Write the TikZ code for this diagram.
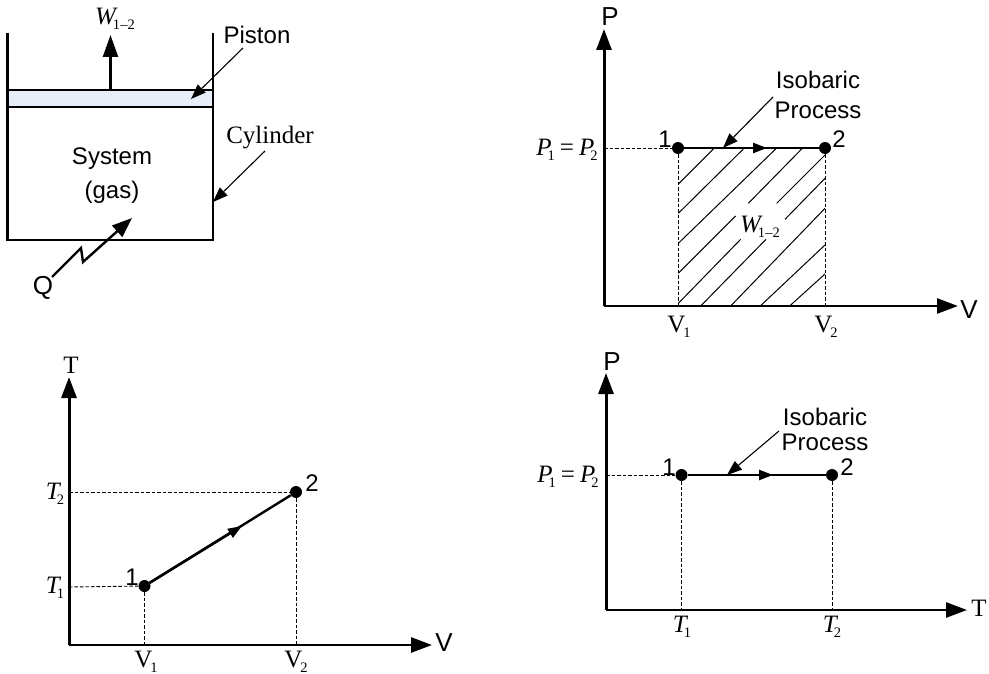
\documentclass[tikz,border=0pt]{standalone}
\usepackage{fontspec}
\setmainfont{Liberation Serif}
\newfontfamily\sansf{Liberation Sans}
\usetikzlibrary{arrows.meta}
\definecolor{pistonfill}{HTML}{E8EEF7}
\newcommand{\symsub}[3][-1pt]{{\fontsize{25}{25}\selectfont\itshape #2}\kern#1\raisebox{-5pt}{\fontsize{14.5}{14.5}\selectfont #3}}
\newcommand{\Wlab}{\symsub[-3pt]{W}{1\kern.2pt--\kern.2pt2}}
\newcommand{\Peq}{\symsub[-4pt]{P}{1}\kern5pt{\fontsize{25}{25}\selectfont =}\kern5pt\symsub[-4pt]{P}{2}}
\newcommand{\Vsub}[1]{{\fontsize{25}{25}\selectfont V}\kern-2pt\raisebox{-5pt}{\fontsize{14.5}{14.5}\selectfont #1}}
\tikzset{
 sanslab/.style={font=\sansf\fontsize{24}{28}\selectfont,inner sep=0pt,align=center},
 seriflab/.style={font=\fontsize{25}{28}\selectfont,inner sep=0pt},
 wall/.style={line width=2.4pt},
 axisline/.style={line width=3pt,-{Triangle[length=21pt,width=15pt]}},
 xaxisline/.style={line width=2.6pt,-{Triangle[length=21pt,width=15pt]}},
 procline/.style={line width=2.4pt},
 midtip/.style={line width=2.4pt,-{Triangle[length=14pt,width=10pt]}},
 pointer/.style={line width=1.1pt,-{Triangle[length=15pt,width=11pt]}},
 guide/.style={line width=.9pt,dash pattern=on 3.5pt off 2pt},
 hatchline/.style={line width=1pt},
 statept/.style={circle,fill=black,inner sep=0pt,minimum size=12pt},
}
\begin{document}
\begin{tikzpicture}[x=1pt,y=-1pt]
\useasboundingbox (0,0) rectangle (989,674);
% ---- piston-cylinder ----
\fill[pistonfill] (7.5,90) rectangle (213,107);
\coordinate (cTL) at (7.5,33); \coordinate (cTR) at (213,33);
\coordinate (cBL) at (7.5,240); \coordinate (cBR) at (213,240);
\coordinate (pL) at (7.5,90); \coordinate (pR) at (213,90);
\coordinate (qL) at (7.5,107); \coordinate (qR) at (213,107);
\draw[wall] (cTL) -- (cBL) -- (cBR) -- (cTR);
\draw[line width=1.8pt] (pL) -- (pR);
\draw[wall] (qL) -- (qR);
\coordinate (wS) at (110.5,90); \coordinate (wE) at (110.5,35);
\draw[line width=2.4pt,-{Triangle[length=22pt,width=15pt]}] (wS) -- (wE);
\node[seriflab] (wtop) at (115,19) {\Wlab};
\node[sanslab] (piston) at (257,35) {Piston};
\coordinate (pistonS) at (243,48); \coordinate (pistonE) at (191,99);
\draw[pointer] (pistonS) -- (pistonE);
\node[seriflab] (cyl) at (270,138) {Cylinder};
\coordinate (cylS) at (265,151); \coordinate (cylE) at (213,202);
\draw[pointer] (cylS) -- (cylE);
\node[sanslab] (sys) at (112,176) {System\\[6pt](gas)};
\node[sanslab,font=\sansf\fontsize{26}{28}\selectfont] (q) at (43,288) {Q};
\coordinate (z0) at (52,277); \coordinate (z1) at (81,248); \coordinate (z2) at (83,262); \coordinate (z3) at (132,218);
\draw[line width=2.4pt,-{Triangle[length=20pt,width=15pt]}] (z0) -- (z1) -- (z2) -- (z3);
% ---- P-V ----
\coordinate (o2) at (604,306); \coordinate (y2) at (604,29); \coordinate (x2) at (958,306);
\draw[axisline] (o2) -- (y2);
\draw[xaxisline] (o2) -- (x2);
\node[statept] (a1) at (678,148) {};
\node[statept] (a2) at (825,148) {};
\coordinate (a1y) at (604,148); \coordinate (a1x) at (678,306); \coordinate (a2x) at (825,306);
\coordinate (am) at (767,148);
\begin{scope}[shift={(670,140)},x=0.33333pt,y=-0.33333pt]
\foreach \a/\b/\c/\d in {25/132/130/27,25/220/220/27,25/310/317/27,25/400/197/228,235/190/395/27,25/490/212/298,320/190/465/45,93/497/288/298,345/238/465/115,183/497/465/205,272/497/465/315,360/497/465/402}
  \draw[hatchline] (\a,\b) -- (\c,\d);
\end{scope}
\draw[guide] (a1y) -- (a1);
\draw[guide] (a1) -- (a1x);
\draw[guide] (a2) -- (a2x);
\draw[procline] (a1) -- (a2);
\draw[midtip] (a1) -- (am);
\node[sanslab,font=\sansf\fontsize{26}{28}\selectfont] (lp2) at (610,17) {P};
\node[sanslab,font=\sansf\fontsize{26}{28}\selectfont] (lv2) at (969,310) {V};
\node[seriflab] (v1a) at (679,327) {\Vsub{1}};
\node[seriflab] (v2a) at (826,327) {\Vsub{2}};
\node[seriflab] (eqa) at (567,150) {\Peq};
\node[sanslab] at (665,139) (n1a) {1};
\node[sanslab] at (839,139) (n2a) {2};
\node[seriflab] (wmid) at (760,227) {\Wlab};
\node[sanslab,font=\sansf\fontsize{24}{30}\selectfont] (isoa) at (818,95) {Isobaric\\Process};
\coordinate (isaS) at (773,97); \coordinate (isaE) at (723,148);
\draw[pointer] (isaS) -- (isaE);
% ---- T-V ----
\coordinate (o3) at (69,645); \coordinate (y3) at (69,377); \coordinate (x3) at (432,645);
\draw[axisline] (o3) -- (y3);
\draw[xaxisline] (o3) -- (x3);
\node[statept] (b1) at (144.5,586) {};
\node[statept] (b2) at (296,492) {};
\coordinate (b1y) at (69,587); \coordinate (b2y) at (69,492);
\coordinate (b1x) at (144.5,645); \coordinate (b2x) at (296,645);
\coordinate (bm) at (242,526);
\draw[guide] (b1y) -- (b1);
\draw[guide] (b2y) -- (b2);
\draw[guide] (b1) -- (b1x);
\draw[guide] (b2) -- (b2x);
\draw[procline] (b1) -- (b2);
\draw[midtip] (b1) -- (bm);
\node[seriflab] (lt3) at (71,365) {T};
\node[sanslab,font=\sansf\fontsize{26}{28}\selectfont] (lv3) at (444,643) {V};
\node[seriflab] (t2b) at (55,494) {\symsub[-3pt]{T}{2}};
\node[seriflab] (t1b) at (55,588) {\symsub[-3pt]{T}{1}};
\node[seriflab] (v1b) at (146,662) {\Vsub{1}};
\node[seriflab] (v2b) at (296,662) {\Vsub{2}};
\node[sanslab] (n1b) at (132,577) {1};
\node[sanslab] (n2b) at (312,483) {2};
% ---- P-T ----
\coordinate (o4) at (606,610); \coordinate (y4) at (606,373); \coordinate (x4) at (967,610);
\draw[axisline] (o4) -- (y4);
\draw[xaxisline] (o4) -- (x4);
\node[statept] (c1) at (681.5,475) {};
\node[statept] (c2) at (832,475) {};
\coordinate (c1y) at (606,475); \coordinate (c1x) at (681.5,610); \coordinate (c2x) at (832,610);
\coordinate (cm) at (773,475);
\draw[guide] (c1y) -- (c1);
\draw[guide] (c1) -- (c1x);
\draw[guide] (c2) -- (c2x);
\draw[procline] (c1) -- (c2);
\draw[midtip] (c1) -- (cm);
\node[sanslab,font=\sansf\fontsize{26}{28}\selectfont] (lp4) at (612,362) {P};
\node[seriflab] (lt4) at (979,608) {T};
\node[seriflab] (t1c) at (682,627) {\symsub[-3pt]{T}{1}};
\node[seriflab] (t2c) at (832,627) {\symsub[-3pt]{T}{2}};
\node[seriflab] (eqc) at (568,477) {\Peq};
\node[sanslab] (n1c) at (669,467) {1};
\node[sanslab] (n2c) at (847,467) {2};
\node[sanslab,font=\sansf\fontsize{24}{25}\selectfont] (isoc) at (825,429.5) {Isobaric\\Process};
\coordinate (iscS) at (779,431); \coordinate (iscE) at (727,475);
\draw[pointer] (iscS) -- (iscE);
\end{tikzpicture}
\end{document}
